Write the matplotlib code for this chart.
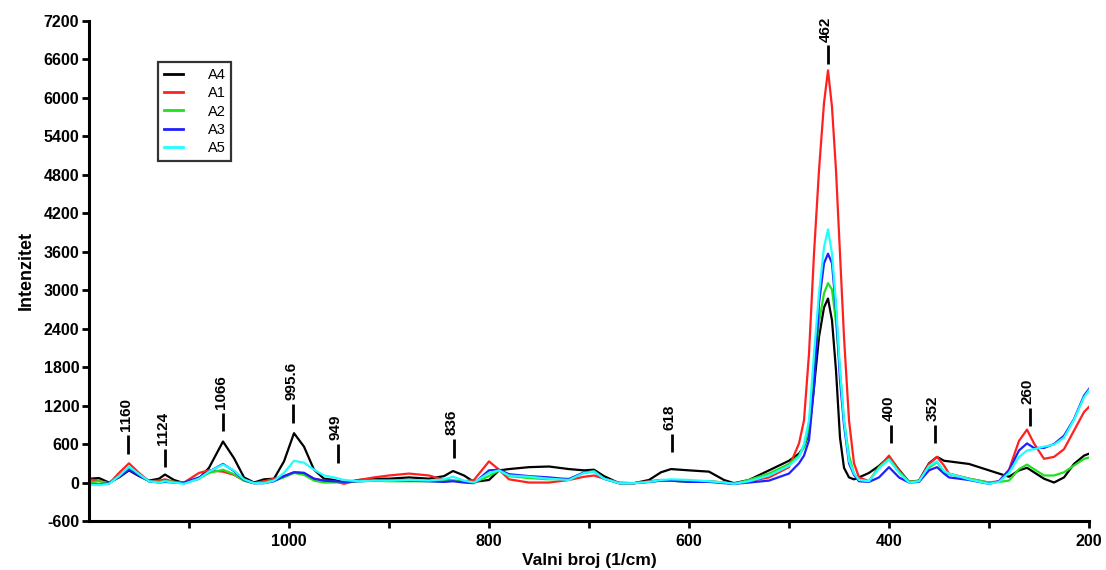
import matplotlib
matplotlib.use("Agg")
import matplotlib.pyplot as plt

plt.rcParams['font.family'] = ['Liberation Sans', 'DejaVu Sans']
plt.rcParams['axes.unicode_minus'] = False

# ---------------- data ----------------
wavenumber = [1200, 1190, 1180, 1170, 1160, 1150, 1140, 1130, 1124, 1115,
              1105, 1090, 1080, 1066, 1055, 1045, 1035, 1025, 1015, 1005,
              995, 985, 975, 965, 955, 945, 930, 915, 900, 880,
              860, 845, 836, 825, 815, 800, 790, 780, 760, 740,
              720, 705, 695, 685, 670, 655, 640, 628, 618, 600,
              580, 565, 555, 540, 520, 500, 490, 485, 480, 475,
              470, 465, 461, 457, 453, 449, 445, 440, 435, 430,
              420, 410, 400, 390, 380, 370, 360, 352, 345, 340,
              320, 300, 290, 280, 270, 262, 255, 245, 235, 225,
              215, 205, 200]

A4 = [60, 70, 0, 80, 190, 100, 30, 60, 125, 40,
      -10, 60, 230, 640, 380, 80, 0, 50, 60, 330,
      770, 560, 200, 60, 40, 0, 40, 60, 60, 80,
      60, 100, 180, 110, 10, 40, 190, 210, 240, 250,
      210, 190, 200, 100, -10, -10, 40, 160, 210, 190,
      170, 40, -10, 40, 190, 340, 450, 560, 770, 1490,
      2270, 2730, 2870, 2530, 1750, 700, 230, 80, 50, 80,
      150, 260, 400, 200, 10, 30, 300, 400, 340, 330,
      290, 190, 140, 90, 190, 230, 160, 60, 0, 80,
      290, 420, 450]

A1 = [50, 30, -20, 150, 300, 150, 20, 30, 50, 10,
      0, 150, 190, 170, 120, 30, -10, 20, 60, 100,
      160, 150, 60, 30, 20, -20, 40, 80, 110, 140,
      110, 40, 30, 20, 40, 330, 200, 50, 0, 0,
      40, 90, 110, 60, 0, -10, 20, 40, 30, 10,
      20, 0, -20, 20, 80, 240, 610, 970, 2010, 3570,
      4870, 5920, 6430, 5860, 4870, 3570, 2270, 970, 300, 80,
      20, 240, 420, 190, 10, 20, 290, 400, 265, 140,
      60, 0, 20, 200, 650, 825, 610, 370, 400, 520,
      810, 1100, 1180]

A2 = [0, 20, -10, 100, 240, 120, 20, 10, 20, 10,
      0, 60, 150, 200, 130, 30, -10, 0, 30, 80,
      150, 120, 30, 0, 0, 10, 20, 30, 20, 20,
      20, 20, 30, 10, 0, 100, 190, 100, 70, 50,
      60, 150, 180, 60, -10, -10, 10, 30, 30, 10,
      20, 0, -20, 40, 140, 290, 420, 550, 850, 1800,
      2500, 2950, 3110, 3010, 2500, 1750, 970, 420, 140, 40,
      20, 240, 370, 170, 10, 20, 230, 320, 160, 130,
      60, 0, 10, 30, 210, 280, 210, 110, 110, 160,
      265, 370, 390]

A3 = [-20, -30, -10, 90, 200, 110, 20, 0, 10, 0,
      0, 80, 170, 290, 180, 40, -10, -10, 20, 100,
      160, 150, 60, 30, 20, 10, 20, 30, 40, 30,
      20, 10, 20, 0, -10, 190, 200, 130, 100, 80,
      50, 160, 170, 60, -10, -10, 10, 30, 30, 10,
      10, -10, -20, 0, 30, 140, 300, 420, 660, 1490,
      2800, 3420, 3570, 3420, 2700, 1600, 900, 300, 120, 20,
      10, 80, 240, 80, 0, 10, 190, 240, 140, 80,
      40, -20, 20, 190, 500, 610, 540, 540, 600, 730,
      990, 1355, 1460]

A5 = [-30, -40, -20, 100, 250, 130, 20, 0, 20, 0,
      -20, 60, 170, 280, 190, 50, -10, -10, 30, 150,
      340, 310, 200, 110, 80, 40, 20, 30, 30, 40,
      30, 50, 90, 30, 0, 150, 190, 110, 90, 60,
      40, 150, 170, 60, -10, -10, 10, 40, 50, 40,
      20, 0, -20, 20, 110, 260, 400, 600, 970, 2010,
      2950, 3670, 3950, 3570, 2790, 1750, 970, 340, 140, 40,
      20, 220, 360, 150, 0, 20, 260, 330, 180, 140,
      50, -20, 10, 150, 400, 500, 520, 560, 590, 700,
      980, 1330, 1440]

series_names = ['A4', 'A1', 'A2', 'A3', 'A5']
series_values = [A4, A1, A2, A3, A5]
series_colors = ['#000000', '#ff2020', '#20e020', '#2020ff', '#20ffff']

peak_labels = ['1160', '1124', '1066', '995.6', '949', '836', '618',
               '462', '400', '352', '260']
peak_x = [1161, 1124, 1066, 996, 951, 835, 617, 461, 398, 354, 259]
peak_line_bottom = [450, 235, 800, 935, 310, 390, 470, 6530, 610, 610, 875]
peak_line_len = 290

y_ticks = list(range(-600, 7201, 600))
x_major = [1000, 800, 600, 400, 200]
x_minor = [1100, 900, 700, 500, 300]

# ---------------- figure ----------------
fig = plt.figure(figsize=(11.06, 5.70), dpi=100)
ax = fig.add_axes([89 / 1106, 49 / 570, 1000 / 1106, 500 / 570])

for name, vals, col in zip(series_names, series_values, series_colors):
    ax.plot(wavenumber, vals, color=col, lw=1.6, label=name,
            solid_joinstyle='round')

for lab, px, yb in zip(peak_labels, peak_x, peak_line_bottom):
    ax.plot([px, px], [yb, yb + peak_line_len], color='black', lw=2.0,
            solid_capstyle='butt')
    ax.text(px + 2, yb + peak_line_len + 60, lab, rotation=90,
            ha='center', va='bottom', fontsize=11, fontweight='bold')

ax.set_xlim(1200, 200)
ax.set_ylim(-600, 7200)
ax.set_yticks(y_ticks)
ax.set_xticks(x_major)
ax.set_xticks(x_minor, minor=True)

for s in ['top', 'right']:
    ax.spines[s].set_visible(False)
for s in ['left', 'bottom']:
    ax.spines[s].set_linewidth(2.2)

ax.tick_params(axis='both', which='both', direction='out', width=2.0,
               length=5, labelsize=11.5, pad=2)
ax.tick_params(axis='x', which='both', pad=4)
for lbl in ax.get_xticklabels() + ax.get_yticklabels():
    lbl.set_fontweight('bold')

ax.set_ylabel('Intenzitet', fontsize=13, fontweight='bold', labelpad=6)
ax.set_xlabel('Valni broj (1/cm)', fontsize=12.5, fontweight='bold', labelpad=3)

leg = ax.legend(loc='upper left', bbox_to_anchor=(0.069, 0.918),
                frameon=True, fancybox=False, fontsize=10.5,
                handlelength=1.3, handletextpad=1.7, labelspacing=0.3,
                borderpad=0.4, borderaxespad=0)
leg.get_frame().set_edgecolor('black')
leg.get_frame().set_linewidth(1.6)
for line in leg.get_lines():
    line.set_linewidth(2)

fig.savefig('out.png', dpi=100)
